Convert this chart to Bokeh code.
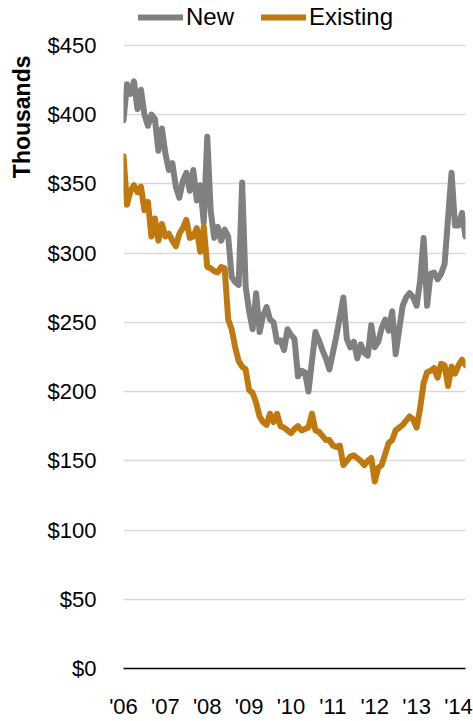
from bokeh.plotting import figure
from bokeh.models import FixedTicker, Legend, LegendItem, Title, Range1d
from bokeh.embed import file_html
from bokeh.resources import INLINE

# Monthly median sales price, thousands of dollars, Jan 2006 - Mar 2014
months = list(range(99))
new_homes = [
    396, 422, 415, 424, 404, 418, 400, 392, 400, 397, 374, 390,
    372, 360, 365, 348, 340, 352, 358, 345, 360, 338, 349, 322,
    384, 330, 311, 319, 309, 317, 312, 283, 279, 277, 351, 276,
    258, 245, 271, 243, 255, 261, 252, 250, 236, 237, 230, 245,
    241, 238, 211, 215, 214, 200, 222, 243, 237, 230, 224, 216,
    228, 240, 254, 268, 238, 232, 236, 224, 234, 228, 226, 248,
    232, 236, 246, 252, 244, 258, 227, 245, 262, 268, 271, 268,
    262, 280, 311, 262, 285, 286, 281, 285, 292, 325, 358, 320,
    320, 329, 312,
]
existing_homes = [
    370, 335, 345, 349, 344, 348, 331, 337, 312, 325, 309, 321,
    312, 314, 309, 305, 314, 318, 324, 311, 312, 318, 301, 319,
    290, 289, 287, 286, 290, 289, 252, 245, 232, 222, 218, 216,
    201, 199, 192, 182, 178, 176, 184, 178, 184, 175, 174, 172,
    170, 173, 175, 172, 173, 174, 184, 172, 171, 168, 165, 165,
    161, 160, 161, 147, 150, 153, 154, 152, 150, 147, 150, 152,
    135, 145, 147, 155, 163, 165, 172, 174, 176, 179, 182, 180,
    174, 188, 206, 214, 215, 217, 210, 220, 219, 204, 218, 213,
    219, 223, 219,
]
year_ticks = [0, 12, 24, 36, 48, 60, 72, 84, 96]
year_labels = ["'06", "'07", "'08", "'09", "'10", "'11", "'12", "'13", "'14"]
y_ticks = [0, 50, 100, 150, 200, 250, 300, 350, 400, 450]
y_labels = ["$0", "$50", "$100", "$150", "$200", "$250", "$300", "$350", "$400", "$450"]

FONT = "Liberation Sans"
GRAY = "#808080"
ORANGE = "#C0790F"

FRAME_H = 669          # frame spans the top of the figure down to the $0 baseline
TOP_PAD = 45           # pixels above the $450 gridline reserved for the legend
y_top = y_ticks[-1] * (FRAME_H / (FRAME_H - TOP_PAD))

p = figure(width=473, height=721, x_range=Range1d(0, 98), y_range=Range1d(0, y_top),
           output_backend="svg", toolbar_location=None,
           min_border_left=123, min_border_right=8, min_border_top=0, min_border_bottom=52)
p.outline_line_color = None
p.background_fill_color = "white"
p.border_fill_color = "white"

r_new = p.line(months, new_homes, line_color=GRAY, line_width=6, line_join="round", line_cap="round")
r_ex = p.line(months, existing_homes, line_color=ORANGE, line_width=6, line_join="round", line_cap="round")

# x axis
xa = p.xaxis[0]
xa.ticker = FixedTicker(ticks=year_ticks)
xa.major_label_overrides = {t: l for t, l in zip(year_ticks, year_labels)}
xa.major_label_text_font = FONT
xa.major_label_text_font_size = "22px"
xa.major_label_text_color = "black"
xa.major_tick_line_color = None
xa.minor_tick_line_color = None
xa.major_label_standoff = 19
xa.axis_line_color = "black"
xa.axis_line_width = 1.4

# y axis
ya = p.yaxis[0]
ya.ticker = FixedTicker(ticks=y_ticks)
ya.major_label_overrides = {t: l for t, l in zip(y_ticks, y_labels)}
ya.major_label_text_font = FONT
ya.major_label_text_font_size = "22px"
ya.major_label_text_color = "black"
ya.major_tick_line_color = None
ya.minor_tick_line_color = None
ya.axis_line_color = None
ya.major_label_standoff = 21

p.xgrid.grid_line_color = None
p.ygrid.ticker = FixedTicker(ticks=y_ticks[1:])
p.ygrid.grid_line_color = "#d9d9d9"
p.ygrid.grid_line_width = 1.5

t = Title(text="Thousands", align="right", vertical_align="top", text_font=FONT,
          text_font_size="23px", text_font_style="bold", text_color="black",
          offset=55, standoff=15)
p.add_layout(t, "left")

legend = Legend(items=[LegendItem(label="New", renderers=[r_new]),
                       LegendItem(label="Existing", renderers=[r_ex])],
                orientation="horizontal", location=(15, FRAME_H - 32),
                glyph_width=45, glyph_height=20, label_standoff=3, spacing=27,
                padding=0, margin=0, border_line_color=None, background_fill_alpha=0,
                label_text_font=FONT, label_text_font_size="24px", label_text_color="black")
p.add_layout(legend, "center")

open("out.html", "w").write(file_html(p, INLINE))
